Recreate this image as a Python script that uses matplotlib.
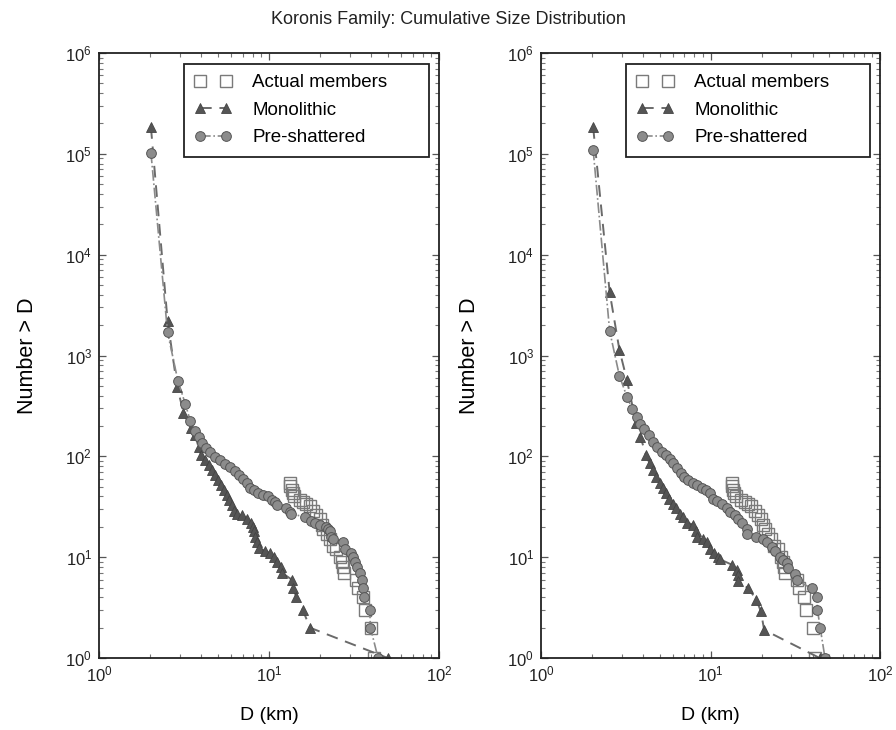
import matplotlib
matplotlib.use("Agg")
import matplotlib.pyplot as plt
from matplotlib.ticker import LogLocator, NullFormatter

plt.rcParams["font.family"] = ["Liberation Sans", "DejaVu Sans"]
plt.rcParams["mathtext.fontset"] = "custom"
plt.rcParams["mathtext.rm"] = "Liberation Sans"
plt.rcParams["mathtext.it"] = "Liberation Sans:italic"

# axis decades
x_major = [1, 10, 100]
y_major = [1, 10, 100, 1e3, 1e4, 1e5, 1e6]

# actual Koronis members (same in both panels)
actual_d = [13.3, 13.3, 13.6, 13.8, 14.1, 15.2, 15.9, 16.6, 17.4, 18.2, 19.0, 19.9, 20.4, 20.8,
            21.8, 22.8, 23.8, 24.9, 26.1, 26.7, 27.1, 27.5, 32.4, 33.4, 35.7, 36.6, 40.0, 41.3]
actual_n = [55, 51, 46, 43, 40, 37, 35, 34, 32, 29, 26, 24, 21, 19,
            17, 15, 13, 12, 10, 9, 8, 7, 6, 5, 4, 3, 2, 1]

# left panel model runs
mono_left_d = [2.02, 2.53, 2.88, 3.14, 3.47, 3.68, 3.85, 3.99, 4.21, 4.41, 4.61, 4.82, 5.04, 5.21,
               5.40, 5.65, 5.85, 6.04, 6.23, 6.46, 6.92, 7.40, 7.81, 8.02, 8.17, 8.31, 8.47, 8.74,
               9.48, 10.1, 10.7, 11.1, 11.7, 11.9, 13.6, 13.8, 14.5, 15.8, 17.4, 49.9]
mono_left_n = [184000, 2220, 492, 272, 190, 163, 123, 103, 92, 82, 73, 65, 58, 52,
               46, 41, 37, 33, 29, 27, 26, 24, 22, 20, 18, 16, 14, 12.3,
               11.6, 11, 10, 9, 8, 7, 6, 5, 4, 3, 2, 1]

pre_left_d = [2.02, 2.53, 2.91, 3.22, 3.44, 3.65, 3.85, 4.03, 4.27, 4.51, 4.82, 5.16, 5.52, 5.91,
              6.32, 6.69, 7.07, 7.40, 7.74, 8.17, 8.66, 9.26, 9.82, 10.4, 10.8, 11.2, 12.6, 13.3,
              13.5, 16.2, 17.6, 18.7, 20.0, 21.5, 22.3, 22.8, 23.3, 23.8, 27.1, 27.9, 30.3, 31.0,
              31.9, 32.7, 34.2, 35.4, 35.7, 36.2, 39.1, 39.5, 43.8]
pre_left_n = [103000, 1700, 564, 329, 226, 180, 155, 137, 120, 111, 99, 92, 84, 78,
              72, 65, 59, 54, 49, 46, 43, 41, 40, 37, 35, 33, 31, 28,
              27, 25, 23, 22, 21, 20, 19, 18, 16, 15, 14, 12, 11, 10,
              9, 8, 7, 6, 5, 4, 3, 2, 1]

# right panel model runs
mono_right_d = [2.03, 2.54, 2.90, 3.21, 3.64, 3.85, 4.17, 4.37, 4.57, 4.78, 5.00, 5.23, 5.47, 5.72,
                5.99, 6.27, 6.62, 6.92, 7.25, 7.93, 8.15, 8.30, 9.00, 9.50, 9.95, 10.5, 11.1, 11.4,
                13.4, 14.3, 14.5, 14.6, 16.7, 18.6, 19.8, 20.7, 44.0]
mono_right_n = [184000, 4250, 1136, 573, 213, 157, 103, 85, 73, 63, 54, 48, 43, 38,
                34, 31, 27, 25, 22, 21, 18, 16, 15, 14, 12, 11, 10, 9.5,
                8.4, 7.5, 6.7, 5.8, 4.9, 3.8, 2.9, 1.9, 1]

pre_right_d = [2.03, 2.54, 2.90, 3.21, 3.45, 3.68, 3.85, 4.06, 4.31, 4.57, 4.83, 5.17, 5.47, 5.78,
               6.04, 6.38, 6.68, 6.98, 7.41, 7.87, 8.37, 8.89, 9.42, 9.95, 10.4, 10.9, 11.7, 12.5,
               13.1, 14.0, 14.6, 15.3, 16.4, 16.5, 18.6, 20.5, 21.5, 23.0, 24.0, 25.5, 26.7, 28.2,
               28.8, 31.5, 32.2, 39.5, 42.3, 42.7, 44.3, 47.3]
pre_right_n = [110000, 1750, 628, 391, 295, 244, 210, 186, 163, 140, 125, 111, 103, 94,
               85, 76, 68, 63, 58, 55, 52, 48, 46, 43, 38, 36, 34, 31,
               28, 26, 24, 22, 19, 17, 16, 15, 14, 12.7, 11.6, 10, 9.4, 8.7,
               7.8, 6.8, 5.9, 4.9, 4, 3, 2, 1]

panels = [(mono_left_d, mono_left_n, pre_left_d, pre_left_n),
          (mono_right_d, mono_right_n, pre_right_d, pre_right_n)]

fig = plt.figure(figsize=(8.96, 7.30), dpi=100)
axes = [fig.add_axes([0.1105, 0.0986, 0.3795, 0.8288]),
        fig.add_axes([0.6038, 0.0986, 0.3785, 0.8288])]

for ax, (md, mn, pd_, pn) in zip(axes, panels):
    ax.plot(actual_d, actual_n, linestyle="none", marker="s", markersize=8,
            markerfacecolor="none", markeredgecolor="#7a7a7a", markeredgewidth=1.0,
            label="Actual members")
    ax.plot(md, mn, linestyle="--", color="#6a6a6a", linewidth=1.4, dashes=(6, 4),
            marker="^", markersize=7, markerfacecolor="#555555", markeredgecolor="#444444",
            markeredgewidth=0.6, label="Monolithic")
    ax.plot(pd_, pn, linestyle="-.", color="#8a8a8a", linewidth=1.2,
            marker="o", markersize=7, markerfacecolor="#8c8c8c", markeredgecolor="#555555",
            markeredgewidth=0.7, label="Pre-shattered")

    ax.set_xscale("log")
    ax.set_yscale("log")
    ax.set_xticks(x_major)
    ax.set_yticks(y_major)
    ax.xaxis.set_minor_locator(LogLocator(base=10, subs=range(2, 10), numticks=10))
    ax.yaxis.set_minor_locator(LogLocator(base=10, subs=range(2, 10), numticks=10))
    ax.xaxis.set_minor_formatter(NullFormatter())
    ax.yaxis.set_minor_formatter(NullFormatter())
    ax.set_xlim(1, 100)
    ax.set_ylim(1, 1e6)
    ax.tick_params(which="both", direction="in", top=True, right=True,
                   labelsize=12, colors="#222222")
    ax.tick_params(which="major", length=5, width=0.9, color="#555555", pad=5)
    ax.tick_params(which="minor", length=3, width=0.8, color="#777777")
    for sp in ax.spines.values():
        sp.set_linewidth(1.3)
        sp.set_color("#222222")

    ax.set_xlabel("D (km)", fontsize=14, labelpad=16)
    ax.set_ylabel("Number > D", fontsize=15.5, labelpad=20)

    leg = ax.legend(loc="upper left", bbox_to_anchor=(0.25, 0.0, 0.7206, 0.9818),
                    mode="expand", borderaxespad=0, numpoints=2, fontsize=13.5,
                    fancybox=False, framealpha=1, edgecolor="#222222",
                    handlelength=2.0, handletextpad=1.1, labelspacing=0.55,
                    borderpad=0.55)
    leg.get_frame().set_linewidth(1.3)

fig.suptitle("Koronis Family: Cumulative Size Distribution", fontsize=13, y=0.985,
             color="#222222")

fig.savefig("out.png", dpi=100)
